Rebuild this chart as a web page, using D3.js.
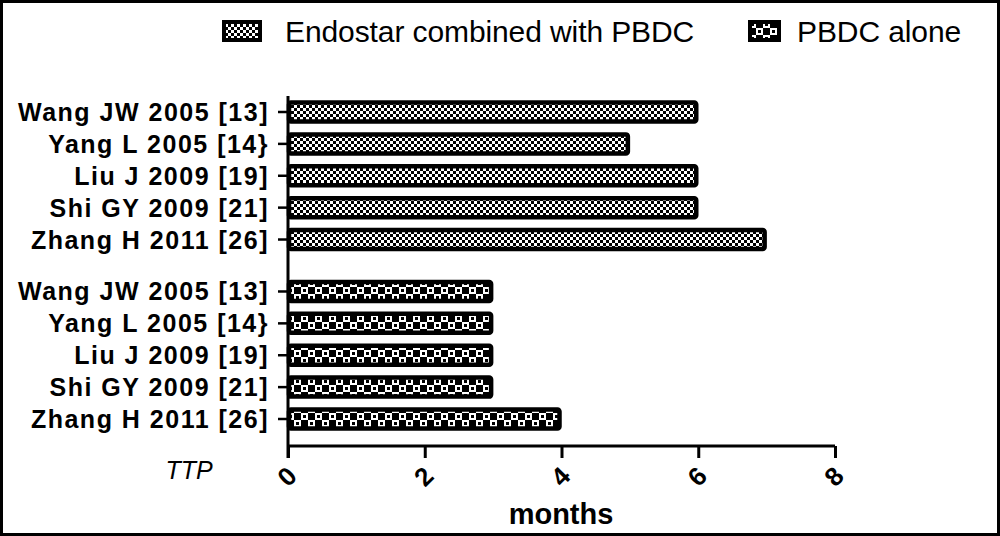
<!DOCTYPE html>
<html>
<head>
<meta charset="utf-8">
<script src="https://cdn.jsdelivr.net/npm/d3@7"></script>
<style>
    body { margin: 0; background: #fff; }
    .label { font-family: Arial, "Liberation Sans", sans-serif; font-weight: bold; font-size: 25px; }
</style>
</head>
<body>
<div id="chart"></div>
<script>
//----------------------------
// Data
//----------------------------
var studies = ["Wang JW 2005 [13]", "Yang L 2005 [14}", "Liu J 2009 [19]", "Shi GY 2009 [21]", "Zhang H 2011 [26]"];
var groups = ["Endostar combined with PBDC", "PBDC alone"];
var combinedTTP = [6, 5, 6, 6, 7];
var aloneTTP = [3, 3, 3, 3, 4];
var xTicks = [0, 2, 4, 6, 8];

// set the dimensions of the graph
var width = 1000, height = 536;
var x0 = 288, x1 = 835, axisY = 446;

var svg = d3.select("#chart")
    .append("svg")
    .attr("width", width)
    .attr("height", height);

//----------------------------
// Patterns
//----------------------------
var defs = svg.append("defs");

// fine checker for the combined group
var fine = defs.append("pattern")
    .attr("id", "fine")
    .attr("patternUnits", "userSpaceOnUse")
    .attr("width", 6).attr("height", 6);
fine.append("rect").attr("width", 6).attr("height", 6).attr("fill", "#fff");
fine.append("rect").attr("width", 3).attr("height", 3).attr("fill", "#000");
fine.append("rect").attr("x", 3).attr("y", 3).attr("width", 3).attr("height", 3).attr("fill", "#000");

// coarse checker with dots for the PBDC alone group
var coarse = defs.append("pattern")
    .attr("id", "coarse")
    .attr("patternUnits", "userSpaceOnUse")
    .attr("width", 14).attr("height", 14);
coarse.append("rect").attr("width", 14).attr("height", 14).attr("fill", "#000");
coarse.append("rect").attr("x", 0).attr("y", 0).attr("width", 7).attr("height", 7).attr("fill", "#fff");
coarse.append("rect").attr("x", 7).attr("y", 7).attr("width", 7).attr("height", 7).attr("fill", "#fff");
coarse.append("rect").attr("x", 2).attr("y", 2).attr("width", 3).attr("height", 3).attr("fill", "#000");
coarse.append("rect").attr("x", 9).attr("y", 9).attr("width", 3).attr("height", 3).attr("fill", "#000");

// frame
svg.append("rect")
    .attr("x", 1.5).attr("y", 1.5)
    .attr("width", width - 3).attr("height", height - 3)
    .attr("fill", "none").attr("stroke", "#000").attr("stroke-width", 3);

//----------------------------
// Scales
//----------------------------
var xScale = d3.scaleLinear().domain([0, 8]).range([x0, x1]);

// rows: group 1 at 0..4, group 2 after a gap
var gapOffset = 5.63;
var yScale = d3.scaleLinear().domain([0, 4 + gapOffset]).range([112, 419]);

var rows = [];
combinedTTP.forEach(function (v, i) { rows.push({label: studies[i], value: v, pos: i, fill: "url(#fine)"}); });
aloneTTP.forEach(function (v, i) { rows.push({label: studies[i], value: v, pos: i + gapOffset, fill: "url(#coarse)"}); });

var barH = 19;

//----------------------------
// Bars
//----------------------------
svg.selectAll(".bar")
    .data(rows)
    .enter().append("rect")
    .attr("class", "bar")
    .attr("x", xScale(0) + 1)
    .attr("y", d => yScale(d.pos) - barH / 2)
    .attr("width", d => xScale(d.value) - xScale(0) - 3)
    .attr("height", barH)
    .attr("fill", d => d.fill)
    .attr("stroke", "#000")
    .attr("stroke-width", 4.5)
    .attr("rx", 2);

//----------------------------
// Axes
//----------------------------
// y axis line
svg.append("line")
    .attr("x1", x0).attr("x2", x0)
    .attr("y1", 96).attr("y2", axisY + 12)
    .attr("stroke", "#000").attr("stroke-width", 3);

// y ticks and labels
var yg = svg.append("g");
yg.selectAll(".ytick")
    .data(rows)
    .enter().append("line")
    .attr("x1", x0 - 10).attr("x2", x0)
    .attr("y1", d => yScale(d.pos)).attr("y2", d => yScale(d.pos))
    .attr("stroke", "#000").attr("stroke-width", 2.5);

yg.selectAll(".ylab")
    .data(rows)
    .enter().append("text")
    .attr("class", "label")
    .attr("x", 269)
    .attr("y", d => yScale(d.pos) + 9)
    .attr("text-anchor", "end")
    .style("letter-spacing", "1.5px")
    .text(d => d.label);

// x axis
var xAxis = d3.axisBottom(xScale)
    .tickValues(xTicks)
    .tickSize(12)
    .tickSizeOuter(0)
    .tickFormat(d3.format("d"));

var xg = svg.append("g")
    .attr("transform", "translate(0," + axisY + ")")
    .call(xAxis);
xg.select(".domain").attr("stroke-width", 3).attr("d", "M" + x0 + ",0H" + x1);
xg.selectAll(".tick line").attr("stroke-width", 3);
xg.selectAll(".tick text")
    .attr("class", "label")
    .attr("font-size", null)
    .attr("font-family", null)
    .style("font-size", "26px")
    .attr("y", 0)
    .attr("dy", 0)
    .attr("text-anchor", "middle")
    .attr("transform", "translate(0,32) rotate(-45)")
    .attr("dominant-baseline", "middle");

// TTP
svg.append("text")
    .attr("x", 189)
    .attr("y", 479)
    .attr("text-anchor", "middle")
    .style("font-family", "Arial, 'Liberation Sans', sans-serif")
    .style("font-style", "italic")
    .style("font-size", "25px")
    .text("TTP");

// x axis title
svg.append("text")
    .attr("class", "label")
    .attr("x", 561)
    .attr("y", 524)
    .attr("text-anchor", "middle")
    .style("font-size", "29px")
    .text("months");

//----------------------------
// Legend
//----------------------------
var legendData = [
    {name: groups[0], fill: "url(#fine)", x: 222, w: 40, tx: 285},
    {name: groups[1], fill: "url(#coarse)", x: 748, w: 33, tx: 797}
];

var legend = svg.append("g").attr("class", "legend");
legend.selectAll("rect")
    .data(legendData)
    .enter().append("rect")
    .attr("x", d => d.x + 2)
    .attr("y", 22)
    .attr("width", d => d.w - 4)
    .attr("height", 18)
    .attr("fill", d => d.fill)
    .attr("stroke", "#000")
    .attr("stroke-width", 4);

legend.selectAll("text")
    .data(legendData)
    .enter().append("text")
    .attr("x", d => d.tx)
    .attr("y", 42)
    .style("font-family", "Arial, 'Liberation Sans', sans-serif")
    .style("font-size", "30px")
    .style("letter-spacing", "-0.1px")
    .text(d => d.name);
</script>
</body>
</html>
